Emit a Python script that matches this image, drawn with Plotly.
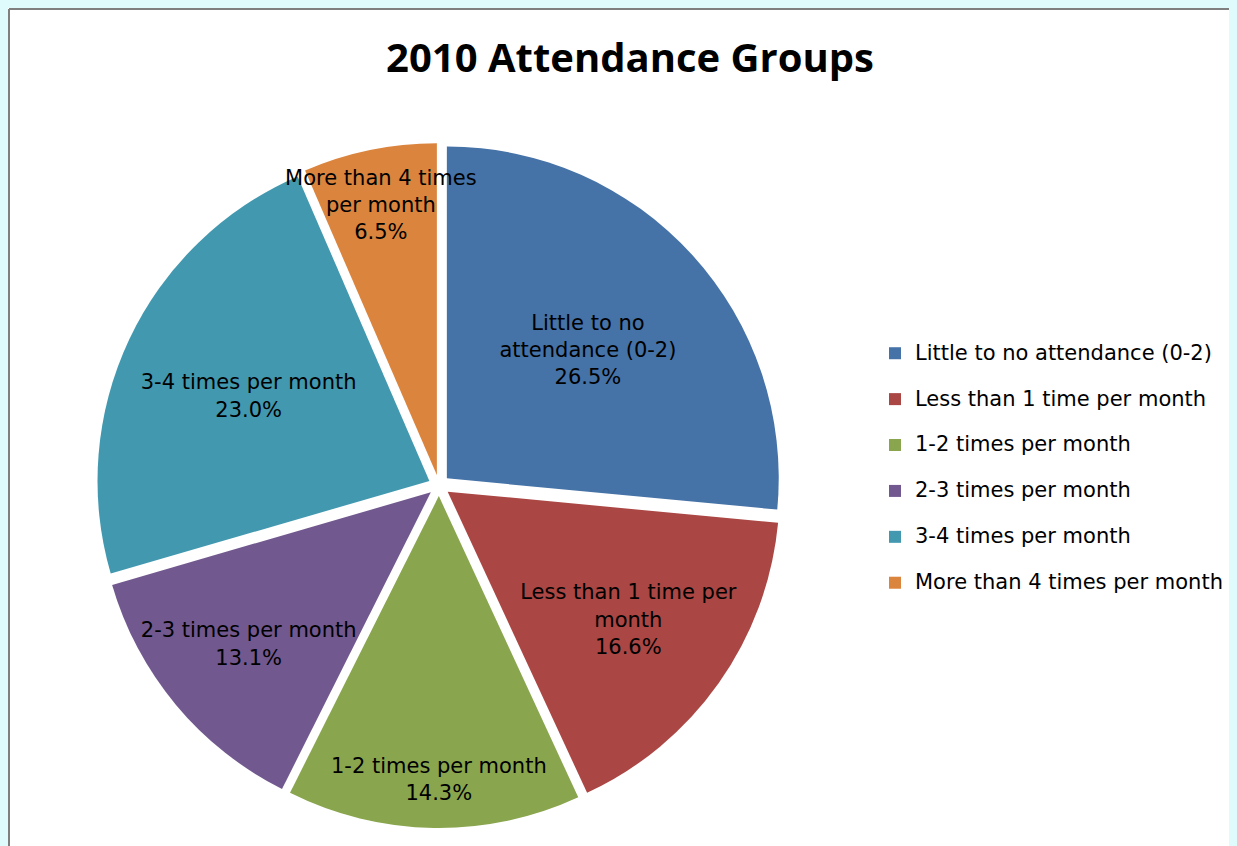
import plotly.graph_objects as go

categories = [
    "Little to no attendance (0-2)",
    "Less than 1 time per month",
    "1-2 times per month",
    "2-3 times per month",
    "3-4 times per month",
    "More than 4 times per month",
]
values = [26.5, 16.6, 14.3, 13.1, 23.0, 6.5]
slice_labels = [
    "Little to no<br>attendance (0-2)",
    "Less than 1 time per<br>month",
    "1-2 times per month",
    "2-3 times per month",
    "3-4 times per month",
    "More than 4 times<br>per month",
]
colors = ["#4572A7", "#AA4643", "#89A54E", "#71588F", "#4198AF", "#DB843D"]

# page is offset by the 8px body margin; figure fills the rest of the window
W, H = 1229, 838
text_font = "DejaVu Sans, Open Sans, sans-serif"
title_font = "Open Sans, Noto Sans, sans-serif"

legend_labels = ["<span style='font-size:21px'>" + c + "</span><br> " for c in categories]

fig = go.Figure()
fig.add_trace(go.Pie(
    labels=legend_labels,
    values=values,
    text=slice_labels,
    texttemplate="%{text}<br>%{value:.1f}%",
    textposition="inside",
    insidetextorientation="horizontal",
    sort=False,
    direction="clockwise",
    rotation=0,
    pull=[0.032] * 6,
    marker=dict(colors=colors, line=dict(color="white", width=0)),
    textfont=dict(family=text_font, size=21, color="black"),
    domain=dict(x=[81 / W, 781 / W], y=[1 - 820 / H, 1 - 135 / H]),
    hovertemplate="%{text}<br>%{percent}<extra></extra>",
))

# grey frame on the top and left edges of the chart area
fig.add_shape(type="line", xref="paper", yref="paper",
              x0=1 / W, x1=1.05, y0=1 - 1 / H, y1=1 - 1 / H,
              line=dict(color="#7f7f7f", width=2), layer="below")
fig.add_shape(type="line", xref="paper", yref="paper",
              x0=1 / W, x1=1 / W, y0=-0.05, y1=1 - 1 / H,
              line=dict(color="#7f7f7f", width=2), layer="below")

fig.update_layout(
    width=W, height=H,
    margin=dict(l=0, r=0, t=0, b=0, autoexpand=False),
    paper_bgcolor="white",
    plot_bgcolor="white",
    uniformtext=dict(minsize=21, mode="show"),
    title=dict(text="<b>2010 Attendance Groups</b>", x=622 / W, xanchor="center",
               y=1 - 50 / H, yanchor="middle",
               font=dict(family=title_font, size=40, color="black")),
    legend=dict(x=867 / W, y=1 - 328 / H, xanchor="left", yanchor="top",
                valign="top", bgcolor="rgba(0,0,0,0)",
                font=dict(family=text_font, size=16.5, color="black"),
                tracegroupgap=0),
)

fig.write_html("out.html", post_script="document.body.style.backgroundColor='#E0FBFC';")
